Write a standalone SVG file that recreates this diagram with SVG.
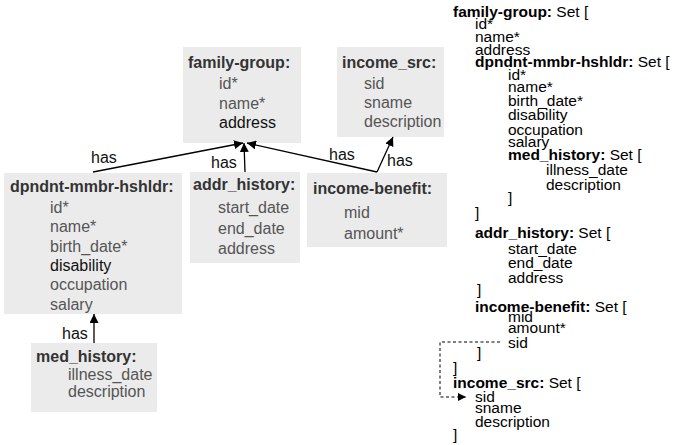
<svg xmlns="http://www.w3.org/2000/svg" width="675" height="445" viewBox="0 0 675 445">
  <defs>
    <marker id="tip" viewBox="0 0 10 10" refX="10" refY="5" markerWidth="9" markerHeight="9" markerUnits="userSpaceOnUse" orient="auto">
      <path d="M0,0 L10,5 L0,10 Z" fill="#000"/>
    </marker>
    <marker id="tipSmall" viewBox="0 0 10 10" refX="10" refY="5" markerWidth="8" markerHeight="8" markerUnits="userSpaceOnUse" orient="auto">
      <path d="M0,0 L10,5 L0,10 Z" fill="#000"/>
    </marker>
  </defs>
  <style>
    text { font-family: "Liberation Sans", Arial, sans-serif; }
    .box { fill: #ebebeb; }
    .title { font-size: 16px; font-weight: bold; fill: #333; }
    .attr { font-size: 16px; fill: #555; }
    .dark { fill: #111; }
    .lbl { font-size: 16px; fill: #111; }
    .edge { stroke: #000; stroke-width: 1.3; fill: none; marker-end: url(#tip); }
    .ref { stroke: #000; stroke-width: 1; fill: none; stroke-dasharray: 3 2.5; marker-end: url(#tipSmall); }
    .tree { font-size: 15.5px; fill: #000; }
    .tree .b { font-weight: bold; }
  </style>

  <!-- entity boxes -->
  <g id="family-group">
    <rect class="box" x="183" y="47" width="118" height="96"/>
    <text class="title" x="188" y="68">family-group:</text>
    <text class="attr" x="219" y="89">id*</text>
    <text class="attr" x="219" y="108.5">name*</text>
    <text class="attr dark" x="219" y="128">address</text>
  </g>

  <g id="income_src">
    <rect class="box" x="337" y="47" width="107" height="90"/>
    <text class="title" x="342" y="68">income_src:</text>
    <text class="attr" x="364" y="89">sid</text>
    <text class="attr" x="364" y="108">sname</text>
    <text class="attr" x="364" y="127">description</text>
  </g>

  <g id="dpndnt-mmbr-hshldr">
    <rect class="box" x="4" y="173" width="178" height="141"/>
    <text class="title" x="10" y="192">dpndnt-mmbr-hshldr:</text>
    <text class="attr" x="50" y="213">id*</text>
    <text class="attr" x="50" y="232.3">name*</text>
    <text class="attr" x="50" y="251.6">birth_date*</text>
    <text class="attr dark" x="50" y="270.9">disability</text>
    <text class="attr" x="50" y="290.2">occupation</text>
    <text class="attr" x="50" y="309.5">salary</text>
  </g>

  <g id="addr_history">
    <rect class="box" x="190" y="172" width="110" height="91"/>
    <text class="title" x="193" y="190">addr_history:</text>
    <text class="attr" x="218" y="213">start_date</text>
    <text class="attr" x="218" y="234">end_date</text>
    <text class="attr" x="218" y="254">address</text>
  </g>

  <g id="income-benefit">
    <rect class="box" x="307" y="173" width="140" height="74"/>
    <text class="title" x="313" y="194">income-benefit:</text>
    <text class="attr" x="344" y="218">mid</text>
    <text class="attr" x="344" y="239">amount*</text>
  </g>

  <g id="med_history">
    <rect class="box" x="31" y="343" width="126" height="69"/>
    <text class="title" x="36" y="362">med_history:</text>
    <text class="attr" x="68" y="380">illness_date</text>
    <text class="attr" x="68" y="397">description</text>
  </g>

  <!-- "has" relationships -->
  <g id="connectors">
    <line class="edge" x1="93" y1="172" x2="243" y2="143"/>
    <line class="edge" x1="245" y1="172" x2="244" y2="143"/>
    <line class="edge" x1="377" y1="172" x2="247" y2="143"/>
    <line class="edge" x1="377" y1="172" x2="393" y2="137"/>
    <line class="edge" x1="94" y1="343" x2="94" y2="314"/>
    <path class="ref" d="M500,342 H440 V397 H466"/>
  </g>

  <g id="labels">
    <text class="lbl" x="91" y="163">has</text>
    <text class="lbl" x="211" y="168">has</text>
    <text class="lbl" x="329" y="160">has</text>
    <text class="lbl" x="387" y="166">has</text>
    <text class="lbl" x="62" y="339">has</text>
  </g>

  <!-- nested set notation -->
  <g id="nested-sets" class="tree">
    <text x="453" y="17"><tspan class="b">family-group:</tspan> Set [</text>
    <text x="475" y="29">id*</text>
    <text x="475" y="42">name*</text>
    <text x="475" y="55">address</text>
    <text x="475" y="67"><tspan class="b">dpndnt-mmbr-hshldr:</tspan> Set [</text>
    <text x="508" y="80">id*</text>
    <text x="508" y="92">name*</text>
    <text x="508" y="106">birth_date*</text>
    <text x="508" y="120">disability</text>
    <text x="508" y="135">occupation</text>
    <text x="508" y="147">salary</text>
    <text x="508" y="160"><tspan class="b">med_history:</tspan> Set [</text>
    <text x="546" y="175">illness_date</text>
    <text x="546" y="190">description</text>
    <text x="508" y="203">]</text>
    <text x="475" y="218">]</text>
    <text x="475" y="238"><tspan class="b">addr_history:</tspan> Set [</text>
    <text x="508" y="254">start_date</text>
    <text x="508" y="268">end_date</text>
    <text x="508" y="283">address</text>
    <text x="477" y="295">]</text>
    <text x="475" y="312"><tspan class="b">income-benefit:</tspan> Set [</text>
    <text x="508" y="322">mid</text>
    <text x="508" y="333">amount*</text>
    <text x="508" y="348">sid</text>
    <text x="477" y="358">]</text>
    <text x="453" y="373">]</text>
    <text x="453" y="388"><tspan class="b">income_src:</tspan> Set [</text>
    <text x="475" y="402">sid</text>
    <text x="475" y="413">sname</text>
    <text x="475" y="427">description</text>
    <text x="453" y="440">]</text>
  </g>
</svg>
